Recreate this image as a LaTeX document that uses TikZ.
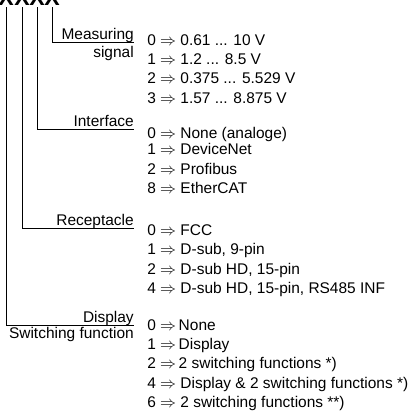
\documentclass[tikz,border=0pt]{standalone}
\usepackage{fontspec}
\setmainfont{Liberation Sans}
\begin{document}
\begin{tikzpicture}[x=0.75pt,y=-0.75pt,
  lbl/.style={anchor=base east, inner sep=0pt, font=\fontsize{11.6}{14}\selectfont},
  val/.style={anchor=base west, inner sep=0pt, font=\fontsize{11.6}{14}\selectfont},
  xx/.style={anchor=base, inner sep=0pt, font=\fontsize{17.3}{20}\selectfont\bfseries},
  conn/.style={draw=black, line width=0.75pt}]
\useasboundingbox (0,0) rectangle (418,411);
\clip (0,0) rectangle (418,411);
% code letters
\node[xx] (x1) at (6,5) {X};
\node[xx] (x2) at (22,5) {X};
\node[xx] (x3) at (37,5) {X};
\node[xx] (x4) at (52,5) {X};
% label texts
\node[lbl] (meas) at (134,39) {Measuring};
\node[lbl] (sig) at (134,57) {signal};
\node[lbl] (intf) at (134,126) {Interface};
\node[lbl] (rec) at (134,225) {Receptacle};
\node[lbl] (disp) at (134,322) {Display};
\node[lbl] (swf) at (134,338) {Switching function};
% line ends
\coordinate (e4) at (134,42);
\coordinate (e3) at (134,129);
\coordinate (e2) at (134,228);
\coordinate (e1) at (134,325);
\draw[conn] ([yshift=-1.5pt]x4.south) |- (e4);
\draw[conn] ([yshift=-1.5pt]x3.south) |- (e3);
\draw[conn] ([yshift=-1.5pt]x2.south) |- (e2);
\draw[conn] ([yshift=-1.5pt]x1.south) |- (e1);
% values
\node[val] (m0) at (147,45) {0 $\Rightarrow$ 0.61 ... 10 V};
\node[val] (m1) at (147,64) {1 $\Rightarrow$ 1.2 ... 8.5 V};
\node[val] (m2) at (147,83.5) {2 $\Rightarrow$ 0.375 ... 5.529 V};
\node[val] (m3) at (147,103) {3 $\Rightarrow$ 1.57 ... 8.875 V};
\node[val] (i0) at (147,138) {0 $\Rightarrow$ None (analoge)};
\node[val] (i1) at (147,154.5) {1 $\Rightarrow$ DeviceNet};
\node[val] (i2) at (147,174) {2 $\Rightarrow$ Profibus};
\node[val] (i8) at (147,193.5) {8 $\Rightarrow$ EtherCAT};
\node[val] (r0) at (147,235) {0 $\Rightarrow$ FCC};
\node[val] (r1) at (147,254.5) {1 $\Rightarrow$ D-sub, 9-pin};
\node[val] (r2) at (147,274) {2 $\Rightarrow$ D-sub HD, 15-pin};
\node[val] (r4) at (147,293.5) {4 $\Rightarrow$ D-sub HD, 15-pin, RS485 INF};
\node[val] (d0) at (147,330) {0 $\Rightarrow$\,None};
\node[val] (d1) at (147,349) {1 $\Rightarrow$\,Display};
\node[val] (d2) at (147,368) {2 $\Rightarrow$\,2 switching functions *)};
\node[val] (d4) at (147,388) {4 $\Rightarrow$ Display \& 2 switching functions *)};
\node[val] (d6) at (147,407) {6 $\Rightarrow$ 2 switching functions **)};
\end{tikzpicture}
\end{document}
